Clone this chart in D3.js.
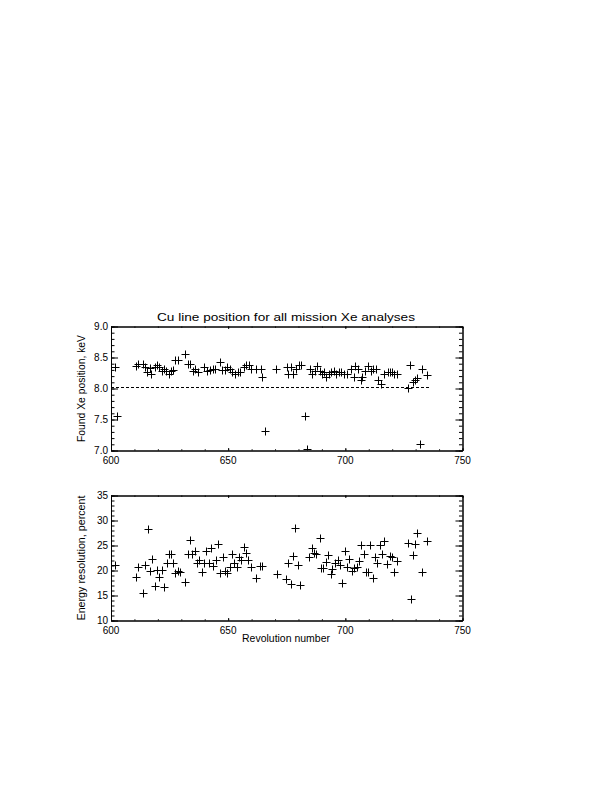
<!DOCTYPE html>
<html><head><meta charset="utf-8">
<script src="https://cdn.jsdelivr.net/npm/d3@7"></script>
<style>body{margin:0;background:#fff}svg{display:block}text{font-family:"Liberation Sans",Arial,sans-serif;fill:#000}</style>
</head><body>
<svg id="c" width="612" height="792"></svg>
<script>
const revsTop = [601.8,602.5,610.8,611.5,613.6,614.3,615.5,616.5,617.2,618.6,619.6,620.4,621.7,622.6,623.6,624.6,625.7,626.4,627.4,628.6,631.4,632.8,633.9,634.9,635.9,637.2,639.7,641.1,642.1,643.5,644.5,646.4,647.4,648.5,649.5,650.7,651.7,652.8,654.2,655.2,656.8,657.8,658.8,659.6,661.8,663.9,664.6,665.9,670.6,674.9,675.6,676.9,677.7,679.1,680.1,680.9,682.6,683.8,684.8,685.8,687.2,687.9,689.1,690.1,690.9,691.9,692.9,694.0,695.0,696.2,697.2,698.3,699.5,700.5,702.3,703.7,704.3,705.4,706.6,707.3,708.3,709.7,710.9,711.9,713.0,714.0,715.4,716.6,718.0,719.0,720.0,720.9,721.9,726.6,727.6,728.7,729.7,730.7,731.8,732.8,734.8];
const posTop = [8.34,7.56,8.37,8.40,8.40,8.35,8.27,8.33,8.24,8.35,8.38,8.35,8.28,8.32,8.28,8.24,8.28,8.30,8.46,8.46,8.56,8.39,8.39,8.28,8.32,8.26,8.35,8.28,8.30,8.32,8.32,8.43,8.30,8.30,8.34,8.31,8.27,8.23,8.27,8.27,8.35,8.38,8.38,8.32,8.32,8.32,8.18,7.31,8.32,8.34,8.23,8.34,8.24,8.32,8.38,8.38,7.55,7.03,8.32,8.24,8.28,8.36,8.28,8.24,8.27,8.19,8.24,8.27,8.28,8.24,8.27,8.27,8.24,8.24,8.31,8.19,8.36,8.32,8.13,8.19,8.28,8.36,8.28,8.32,8.32,8.13,8.08,8.23,8.26,8.26,8.26,8.24,8.24,8.01,8.38,8.10,8.13,8.17,7.10,8.32,8.22];
const refLine = {from: 600, to: 736, value: 8.03};
const revsBot = [601.8,610.8,611.6,613.6,614.6,615.7,616.6,617.6,618.7,619.6,620.4,621.6,622.7,623.7,624.7,625.6,626.6,627.4,628.4,629.6,631.5,632.7,633.8,634.5,635.7,636.7,637.5,638.7,639.7,640.7,641.8,642.6,643.7,644.7,645.6,646.5,647.8,648.8,649.7,650.6,651.6,652.6,653.6,654.6,655.6,656.8,657.8,658.6,659.9,661.8,663.5,664.5,670.9,674.6,675.7,676.7,677.7,678.5,679.7,680.7,684.5,685.6,686.7,687.4,689.1,689.5,690.5,691.7,692.6,693.7,694.5,695.5,696.7,697.6,698.6,699.8,700.5,701.6,702.8,703.8,704.8,705.8,706.8,707.8,708.8,709.7,710.6,711.8,712.7,713.6,714.7,715.7,716.7,717.9,718.9,719.9,720.7,721.9,726.8,727.9,728.7,729.7,730.7,732.8,734.9];
const resBot = [21.1,18.8,20.8,15.6,21.1,28.3,19.9,22.3,16.9,20.1,18.8,20.1,16.7,21.6,23.3,23.3,21.6,19.5,19.9,19.7,17.7,23.3,26.1,23.3,23.9,21.6,22.1,19.8,21.6,23.9,21.6,24.5,21.0,22.1,25.3,19.6,22.8,19.9,19.6,20.8,23.3,21.5,20.8,22.8,22.1,24.7,23.5,22.1,20.8,18.5,20.9,20.9,19.3,18.3,21.5,17.3,23.0,28.5,21.1,17.1,22.8,24.5,23.6,23.3,26.6,20.5,20.5,21.7,23.1,19.3,20.3,21.5,22.1,21.1,17.5,24.0,20.8,22.3,20.0,20.6,20.7,21.9,25.1,23.3,19.7,19.7,25.1,18.5,22.8,21.5,25.1,23.3,25.9,21.3,22.9,22.8,19.7,22.0,25.5,14.3,23.1,25.3,27.5,19.7,25.9];
const xTicks = [600,650,700,750];
const yTicksTop = [7.0,7.5,8.0,8.5,9.0];
const yTicksBot = [10,15,20,25,30,35];
const titleText = "Cu line position for all mission Xe analyses";
const yLabelTop = "Found Xe position, keV";
const yLabelBot = "Energy resolution, percent";
const xLabelBot = "Revolution number";

const svg = d3.select("#c");
const L = 111, R = 462.5;
const x = d3.scaleLinear().domain([600,750]).range([L,R]);

function panel(top, bottom, ydom, yticks, yfmt, xs, ys, id, ylabel, ylabelLen) {
  const y = d3.scaleLinear().domain(ydom).range([bottom, top]);
  const g = svg.append("g");
  g.append("clipPath").attr("id", id).append("rect")
    .attr("x", L).attr("y", top).attr("width", R-L).attr("height", bottom-top);
  const h = bottom - top, w = R - L;
  const xMaj = 0.02*h, yMaj = 0.02*w;
  const xminor = d3.range(600, 751, 10);
  const yStep = (yticks[1]-yticks[0])/5;
  const yminor = d3.range(ydom[0], ydom[1]+yStep/2, yStep);
  const ax = (gen, tx, ty) => g.append("g").attr("transform", `translate(${tx},${ty})`).call(gen)
      .call(s => { s.select(".domain").attr("stroke","#000"); s.selectAll("line").attr("stroke","#000"); });
  ax(d3.axisBottom(x).tickValues(xminor).tickSize(-xMaj/2).tickSizeOuter(0).tickFormat(""), 0, bottom);
  ax(d3.axisBottom(x).tickValues(xTicks).tickSize(-xMaj).tickSizeOuter(0).tickFormat(""), 0, bottom);
  ax(d3.axisTop(x).tickValues(xminor).tickSize(-xMaj/2).tickSizeOuter(0).tickFormat(""), 0, top);
  ax(d3.axisTop(x).tickValues(xTicks).tickSize(-xMaj).tickSizeOuter(0).tickFormat(""), 0, top);
  ax(d3.axisLeft(y).tickValues(yminor).tickSize(-yMaj/2).tickSizeOuter(0).tickFormat(""), L, 0);
  ax(d3.axisLeft(y).tickValues(yticks).tickSize(-yMaj).tickSizeOuter(0).tickFormat(""), L, 0);
  ax(d3.axisRight(y).tickValues(yminor).tickSize(-yMaj/2).tickSizeOuter(0).tickFormat(""), R, 0);
  ax(d3.axisRight(y).tickValues(yticks).tickSize(-yMaj).tickSizeOuter(0).tickFormat(""), R, 0);
  g.selectAll(".domain").attr("stroke-width",1);
  g.selectAll(".xl").data(xTicks).join("text").attr("x", d=>x(d)).attr("y", bottom+13)
    .attr("text-anchor","middle").attr("font-size",10).text(d=>d);
  g.selectAll(".yl").data(yticks).join("text").attr("x", L-3).attr("y", d=>y(d)+3)
    .attr("text-anchor","end").attr("font-size",10).text(yfmt);
  const cy = (top+bottom)/2;
  g.append("text").attr("transform", `translate(85,${cy}) rotate(-90)`).attr("text-anchor","middle")
    .attr("font-size",10.5).attr("textLength", ylabelLen).attr("lengthAdjust","spacingAndGlyphs").text(ylabel);
  const pts = g.append("g").attr("clip-path", `url(#${id})`);
  const s = 4;
  pts.selectAll("path").data(xs.map((d,i)=>[d, ys[i]])).join("path")
    .attr("d", d => { const px = Math.round(x(d[0]))+0.5, py = Math.round(y(d[1]))+0.5;
      return `M${px-s},${py}H${px+s}M${px},${py-s}V${py+s}`; })
    .attr("stroke","#000").attr("stroke-width",1).attr("fill","none");
  return {g, y, pts};
}

const p1 = panel(326.5, 450.5, [7,9], yTicksTop, d=>d.toFixed(1), revsTop, posTop, "clipTop", yLabelTop, 107);
p1.pts.append("line").attr("x1", x(refLine.from)).attr("x2", x(refLine.to))
  .attr("y1", Math.round(p1.y(refLine.value))+0.5).attr("y2", Math.round(p1.y(refLine.value))+0.5)
  .attr("stroke","#000").attr("stroke-dasharray","3,2");
svg.append("text").attr("x", 286).attr("y", 321).attr("text-anchor","middle").attr("font-size",11)
  .attr("textLength", 258).attr("lengthAdjust","spacingAndGlyphs").text(titleText);

const p2 = panel(495.5, 620.5, [10,35], yTicksBot, d=>d, revsBot, resBot, "clipBot", yLabelBot, 125);
svg.append("text").attr("x", 286).attr("y", 642).attr("text-anchor","middle").attr("font-size",10.5)
  .attr("textLength", 88).attr("lengthAdjust","spacingAndGlyphs").text(xLabelBot);
</script>
</body></html>
